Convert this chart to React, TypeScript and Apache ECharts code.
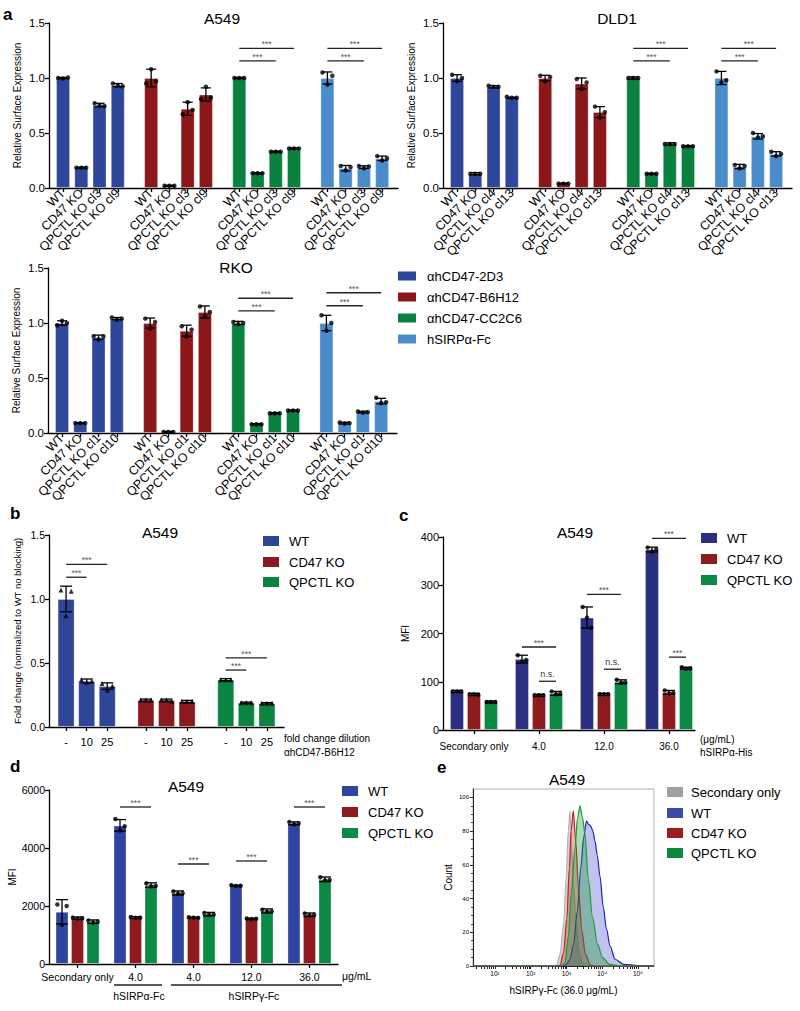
import React, { useEffect, useRef } from 'react';
import * as echarts from 'echarts';

const FONT = "'Liberation Sans', Arial, Helvetica, sans-serif";

// ---------- Panel a ----------
const aAntibodies = ['αhCD47-2D3', 'αhCD47-B6H12', 'αhCD47-CC2C6', 'hSIRPα-Fc'];
const aColors = ['#2f479b', '#8b171b', '#0b8140', '#4a8ccb'];

const a549Lines = ['WT', 'CD47 KO', 'QPCTL KO cl3', 'QPCTL KO cl9'];
const a549Means = [[1.0, 0.185, 0.755, 0.935], [1.0, 0.02, 0.72, 0.85], [1.0, 0.135, 0.33, 0.36], [1.0, 0.18, 0.19, 0.27]];
const a549Sd = [[0.005, 0.005, 0.015, 0.015], [0.08, 0.005, 0.06, 0.06], [0.005, 0.005, 0.005, 0.005], [0.055, 0.025, 0.012, 0.02]];
const a549Reps = [
  [[1.0, 0.995, 1.005], [0.185, 0.185, 0.185], [0.77, 0.75, 0.745], [0.95, 0.93, 0.925]],
  [[0.95, 1.08, 0.97], [0.02, 0.02, 0.02], [0.67, 0.78, 0.71], [0.81, 0.92, 0.82]],
  [[1.0, 1.0, 1.0], [0.135, 0.135, 0.135], [0.33, 0.33, 0.33], [0.36, 0.36, 0.36]],
  [[1.05, 0.94, 1.02], [0.2, 0.16, 0.19], [0.2, 0.18, 0.195], [0.29, 0.25, 0.27]],
];
const a549Brackets = [[2, 0, 2, 1.155], [2, 0, 3, 1.27], [3, 0, 2, 1.155], [3, 0, 3, 1.27]];

const dld1Lines = ['WT', 'CD47 KO', 'QPCTL KO cl4', 'QPCTL KO cl13'];
const dld1Means = [[1.0, 0.13, 0.92, 0.82], [1.0, 0.04, 0.95, 0.69], [1.0, 0.13, 0.4, 0.38], [1.0, 0.195, 0.47, 0.31]];
const dld1Sd = [[0.03, 0.01, 0.01, 0.005], [0.025, 0.005, 0.05, 0.05], [0.01, 0.005, 0.01, 0.005], [0.06, 0.02, 0.025, 0.02]];
const dld1Reps = [
  [[1.03, 0.97, 1.0], [0.13, 0.13, 0.13], [0.93, 0.92, 0.92], [0.83, 0.82, 0.82]],
  [[1.02, 0.97, 1.01], [0.04, 0.04, 0.04], [0.99, 0.9, 0.96], [0.74, 0.64, 0.69]],
  [[1.0, 1.0, 1.0], [0.13, 0.13, 0.13], [0.4, 0.4, 0.4], [0.38, 0.38, 0.38]],
  [[1.06, 0.96, 0.98], [0.21, 0.18, 0.2], [0.5, 0.46, 0.47], [0.33, 0.29, 0.31]],
];
const dld1Brackets = [[2, 0, 2, 1.155], [2, 0, 3, 1.27], [3, 0, 2, 1.155], [3, 0, 3, 1.27]];

const rkoLines = ['WT', 'CD47 KO', 'QPCTL KO cl1', 'QPCTL KO cl10'];
const rkoMeans = [[1.0, 0.09, 0.87, 1.04], [1.0, 0.01, 0.93, 1.1], [1.0, 0.08, 0.18, 0.205], [1.0, 0.09, 0.19, 0.29]];
const rkoSd = [[0.02, 0.005, 0.02, 0.01], [0.045, 0.005, 0.05, 0.055], [0.015, 0.005, 0.005, 0.005], [0.07, 0.008, 0.008, 0.025]];
const rkoReps = [
  [[0.98, 1.02, 1.0], [0.09, 0.09, 0.09], [0.88, 0.85, 0.88], [1.05, 1.03, 1.04]],
  [[1.04, 0.95, 1.01], [0.01, 0.01, 0.01], [0.97, 0.88, 0.94], [1.15, 1.06, 1.1]],
  [[1.01, 0.99, 1.0], [0.08, 0.08, 0.08], [0.18, 0.18, 0.18], [0.205, 0.205, 0.205]],
  [[1.07, 0.93, 1.0], [0.095, 0.085, 0.09], [0.195, 0.185, 0.19], [0.32, 0.27, 0.28]],
];
const rkoBrackets = [[2, 0, 2, 1.11], [2, 0, 3, 1.225], [3, 0, 2, 1.157], [3, 0, 3, 1.275]];

// ---------- Panel b ----------
const bGroups = ['WT', 'CD47 KO', 'QPCTL KO'];
const bDilutions = ['-', '10', '25'];
const bColors = ['#2f4598', '#8b1a1e', '#0a8440'];
const bMeans = [[1.0, 0.36, 0.32], [0.21, 0.21, 0.2], [0.37, 0.19, 0.185]];
const bSd = [[0.1, 0.015, 0.025], [0.008, 0.008, 0.008], [0.008, 0.005, 0.005]];
const bReps = [
  [[1.07, 0.87, 1.06], [0.37, 0.35, 0.36], [0.34, 0.29, 0.32]],
  [[0.21, 0.21, 0.21], [0.21, 0.21, 0.2], [0.2, 0.2, 0.2]],
  [[0.37, 0.37, 0.37], [0.19, 0.19, 0.19], [0.185, 0.185, 0.185]],
];
const bBrackets = [[0, 0, 1, 1.17], [0, 0, 2, 1.27], [2, 0, 1, 0.445], [2, 0, 2, 0.54]];

// ---------- Panel c ----------
const cConcs = ['Secondary only', '4.0', '12.0', '36.0'];
const cLines = ['WT', 'CD47 KO', 'QPCTL KO'];
const cColors = ['#2b2f82', '#8e1b1e', '#0c8a45'];
const cMeans = [[80, 74, 58], [147, 72, 76], [233, 74, 100], [374, 78, 128]];
const cSd = [[2, 2, 2], [8, 2, 4], [22, 2, 4], [5, 4, 2]];
const cReps = [
  [[80, 80, 80], [74, 74, 73], [58, 58, 58]],
  [[155, 142, 145], [72, 72, 72], [80, 74, 75]],
  [[255, 233, 212], [74, 74, 74], [104, 98, 99]],
  [[378, 370, 374], [82, 76, 77], [130, 127, 128]],
];
const cBrackets = [[1, 0, 2, 172, '***'], [1, 1, 2, 101, 'n.s.'], [2, 0, 2, 281, '***'], [2, 1, 2, 126, 'n.s.'], [3, 0, 2, 397, '***'], [3, 1, 2, 151, '***']];

// ---------- Panel d ----------
const dConcs = ['Secondary only', '4.0', '4.0', '12.0', '36.0'];
const dLines = ['WT', 'CD47 KO', 'QPCTL KO'];
const dColors = ['#2f44a0', '#8e1b1e', '#0a8a45'];
const dMeans = [[1800, 1580, 1460], [4780, 1600, 2720], [2450, 1600, 1720], [2700, 1560, 1830], [4850, 1700, 2920]];
const dSd = [[420, 40, 60], [200, 30, 80], [70, 20, 60], [20, 20, 70], [50, 60, 80]];
const dReps = [
  [[2050, 1350, 2000], [1600, 1570, 1580], [1500, 1430, 1460]],
  [[5000, 4600, 4750], [1620, 1590, 1600], [2780, 2680, 2700]],
  [[2500, 2420, 2440], [1610, 1600, 1590], [1760, 1700, 1710]],
  [[2720, 2690, 2700], [1570, 1550, 1560], [1870, 1800, 1820]],
  [[4900, 4820, 4850], [1740, 1680, 1690], [2990, 2880, 2900]],
];
const dBrackets = [[1, 0, 2, 5414], [2, 0, 2, 3448], [3, 0, 2, 3552], [4, 0, 2, 5414]];

// ---------- Panel e (x = log10 fluorescence, y = count) ----------
const eNames = ['Secondary only', 'WT', 'CD47 KO', 'QPCTL KO'];
const eSecondary = [[0.4, 0], [2.65, 0], [2.73, 0.5], [2.82, 7], [2.92, 25], [2.99, 52], [3.05, 80], [3.1, 92], [3.14, 73], [3.2, 48], [3.27, 25], [3.36, 7], [3.47, 0.5], [3.6, 0], [5.45, 0]];
const eWT = [[0.4, 0], [2.9, 0], [3.0, 1], [3.1, 4], [3.2, 13], [3.3, 32], [3.4, 58], [3.48, 76], [3.56, 86], [3.62, 84], [3.68, 83], [3.74, 80], [3.8, 74], [3.86, 66], [3.94, 53], [4.03, 35], [4.12, 22], [4.22, 12], [4.36, 4], [4.6, 1], [5.0, 0.3], [5.3, 0.3], [5.45, 0]];
const eCD47 = [[0.4, 0], [2.75, 0], [2.82, 0.5], [2.92, 8], [3.01, 28], [3.08, 58], [3.13, 80], [3.19, 92], [3.26, 74], [3.34, 45], [3.43, 21], [3.53, 7], [3.67, 0.5], [3.8, 0], [5.45, 0]];
const eQPCTL = [[0.4, 0], [2.85, 0], [2.96, 2], [3.05, 17], [3.14, 44], [3.24, 70], [3.31, 88], [3.38, 95], [3.45, 88], [3.52, 78], [3.61, 52], [3.73, 29], [3.87, 13], [4.01, 5], [4.2, 1], [4.5, 0], [5.45, 0]];
const eDecades = [1, 2, 3, 4, 5];
const eCountTicks = [0, 20, 40, 60, 80, 100];

const SUP = ['⁰', '¹', '²', '³', '⁴', '⁵'];

type Panel = {
  grid: any; stride: number; xMin: number; xMax: number;
  means: number[][]; sds: number[][]; reps: number[][][];
  color: (g: number, i: number) => string;
  brackets: any[]; barWidth: number; cap: number; dx: number[];
  symbol: string; symbolSize: number;
  tickMode: 'bar' | 'group'; label: (g: number, i: number) => string;
  rotate: number; xFont: number; xMargin: number;
  yMin: number; yMax: number; yInt: number; yFmt: (v: number) => string; yFont: number;
  yName: string; yNameGap: number; yNameSize: number;
};

function buildPanel(k: number, P: Panel) {
  const bars: any[] = [], errs: number[][] = [], dots: number[][] = [];
  const barPos: number[] = [], groupPos: number[] = [];
  P.means.forEach((row, g) => {
    groupPos.push(g * P.stride + (row.length - 1) / 2);
    row.forEach((m, i) => {
      const x = g * P.stride + i;
      barPos.push(x);
      bars.push({ value: [x, m], itemStyle: { color: P.color(g, i) } });
      errs.push([x, m, P.sds[g][i]]);
      P.reps[g][i].forEach((v, j) => dots.push([x + P.dx[j], v]));
    });
  });
  const br = P.brackets.map((b) => [b[0] * P.stride + b[1], b[0] * P.stride + b[2], b[3]]);
  const brLabels = P.brackets.map((b) => b[4] || '***');
  const ticks = P.tickMode === 'bar' ? barPos : groupPos;
  const nPer = P.means[0].length;
  const labelFor = (v: number) => {
    if (P.tickMode === 'bar') {
      const g = Math.floor((v + 0.5) / P.stride);
      const i = Math.round(v - g * P.stride);
      return P.label(g, i);
    }
    const g = Math.round((v - (nPer - 1) / 2) / P.stride);
    return P.label(g, 0);
  };
  const axisStyle = { color: '#000', width: 1.3 };
  const xAxis = {
    type: 'value', gridIndex: k, min: P.xMin, max: P.xMax,
    axisLine: { show: true, onZero: false, lineStyle: axisStyle },
    axisTick: { show: true, customValues: ticks, length: 4, lineStyle: axisStyle },
    axisLabel: { customValues: ticks, formatter: labelFor, rotate: P.rotate, fontSize: P.xFont, fontFamily: FONT, color: '#000', margin: P.xMargin },
    splitLine: { show: false },
  };
  const yAxis = {
    type: 'value', gridIndex: k, min: P.yMin, max: P.yMax, interval: P.yInt,
    axisLine: { show: true, onZero: false, lineStyle: axisStyle },
    axisTick: { show: true, length: 4, lineStyle: axisStyle },
    axisLabel: { formatter: P.yFmt, fontSize: P.yFont, fontFamily: FONT, color: '#000', margin: 4 },
    splitLine: { show: false },
    name: P.yName, nameLocation: 'middle', nameGap: P.yNameGap,
    nameTextStyle: { fontSize: P.yNameSize, fontFamily: FONT, color: '#000' },
  };
  const cap = P.cap;
  const series = [
    { type: 'bar', xAxisIndex: k, yAxisIndex: k, data: bars, barWidth: P.barWidth, z: 2, silent: true,
      itemStyle: { borderColor: 'rgba(255,255,255,0.3)', borderWidth: 1 } },
    { type: 'custom', xAxisIndex: k, yAxisIndex: k, data: errs, z: 3, clip: false, silent: true,
      renderItem: (params: any, api: any) => {
        const x = api.value(0), m = api.value(1), s = api.value(2);
        const t = api.coord([x, m + s]), b = api.coord([x, m - s]);
        const st = { stroke: '#000', lineWidth: 1.3 };
        return { type: 'group', children: [
          { type: 'line', shape: { x1: t[0], y1: t[1], x2: b[0], y2: b[1] }, style: st },
          { type: 'line', shape: { x1: t[0] - cap, y1: t[1], x2: t[0] + cap, y2: t[1] }, style: st },
          { type: 'line', shape: { x1: b[0] - cap, y1: b[1], x2: b[0] + cap, y2: b[1] }, style: st },
        ] };
      } },
    { type: 'scatter', xAxisIndex: k, yAxisIndex: k, data: dots, symbol: P.symbol, symbolSize: P.symbolSize,
      itemStyle: { color: '#000' }, z: 4, silent: true },
    { type: 'custom', xAxisIndex: k, yAxisIndex: k, data: br, z: 5, clip: false, silent: true,
      renderItem: (params: any, api: any) => {
        const p1 = api.coord([api.value(0), api.value(2)]);
        const p2 = api.coord([api.value(1), api.value(2)]);
        const lab = brLabels[params.dataIndex];
        const ns = lab !== '***';
        return { type: 'group', children: [
          { type: 'line', shape: { x1: p1[0], y1: p1[1], x2: p2[0], y2: p2[1] }, style: { stroke: '#222', lineWidth: 1.3 } },
          { type: 'text', style: { text: lab, x: (p1[0] + p2[0]) / 2, y: p1[1] - (ns ? 7 : 4),
            fill: ns ? '#333' : '#555', font: `${ns ? 9 : 8.5}px ${FONT}`,
            textAlign: 'center', textVerticalAlign: 'middle', align: 'center', verticalAlign: 'middle' } },
        ] };
      } },
  ];
  return { grid: { ...P.grid, show: false }, xAxis, yAxis, series };
}

const fmt1 = (v: number) => v.toFixed(1);
const fmt0 = (v: number) => String(v);
const aCommon = {
  stride: 4.83, xMin: -0.77, xMax: 18.36, barWidth: 14, cap: 5, dx: [-0.27, 0, 0.27],
  symbol: 'circle', symbolSize: 4.5, tickMode: 'bar' as const, rotate: 45, xFont: 12.5, xMargin: 3,
  yMin: 0, yMax: 1.5, yInt: 0.5, yFmt: fmt1, yFont: 11.5,
  yName: 'Relative Surface Expression', yNameGap: 27, yNameSize: 10,
  color: (g: number) => aColors[g],
};

function txt(text: string, x: number, y: number, size: number, align = 'left', weight = 'normal', fill = '#000') {
  return { type: 'text', silent: true, style: { text, x, y, font: `${weight} ${size}px ${FONT}`, fill,
    textAlign: align, textVerticalAlign: 'middle', align, verticalAlign: 'middle' } };
}
function legend(names: string[], colors: string[], x: number, ys: number[], w: number, h: number, tx: number, size: number) {
  const out: any[] = [];
  names.forEach((n, i) => {
    out.push({ type: 'rect', silent: true, shape: { x, y: ys[i] - h / 2, width: w, height: h }, style: { fill: colors[i] } });
    out.push(txt(n, tx, ys[i], size));
  });
  return out;
}

function buildOption() {
  const panels: Panel[] = [
    { ...aCommon, grid: { left: 49, top: 23, width: 349, height: 165 }, means: a549Means, sds: a549Sd, reps: a549Reps,
      brackets: a549Brackets, label: (g, i) => a549Lines[i] },
    { ...aCommon, grid: { left: 443, top: 23, width: 349, height: 165 }, means: dld1Means, sds: dld1Sd, reps: dld1Reps,
      brackets: dld1Brackets, label: (g, i) => dld1Lines[i] },
    { ...aCommon, grid: { left: 48, top: 268, width: 349, height: 165 }, means: rkoMeans, sds: rkoSd, reps: rkoReps,
      brackets: rkoBrackets, label: (g, i) => rkoLines[i] },
    { grid: { left: 49, top: 535, width: 235, height: 192 }, stride: 3.88, xMin: -0.83, xMax: 10.59,
      means: bMeans, sds: bSd, reps: bReps, color: (g) => bColors[g], brackets: bBrackets,
      barWidth: 17, cap: 6, dx: [-0.25, 0, 0.25], symbol: 'triangle', symbolSize: 5,
      tickMode: 'bar', label: (g, i) => bDilutions[i], rotate: 0, xFont: 11, xMargin: 9,
      yMin: 0, yMax: 1.5, yInt: 0.5, yFmt: fmt1, yFont: 10.5,
      yName: 'Fold change (normalized to WT no blocking)', yNameGap: 27, yNameSize: 9.5 },
    { grid: { left: 443, top: 537, width: 252, height: 193 }, stride: 3.82, xMin: -0.82, xMax: 13.99,
      means: cMeans, sds: cSd, reps: cReps, color: (g, i) => cColors[i], brackets: cBrackets,
      barWidth: 14, cap: 6, dx: [-0.25, 0, 0.25], symbol: 'circle', symbolSize: 4.5,
      tickMode: 'group', label: (g) => cConcs[g], rotate: 0, xFont: 10, xMargin: 11,
      yMin: 0, yMax: 400, yInt: 100, yFmt: fmt0, yFont: 11,
      yName: 'MFI', yNameGap: 33, yNameSize: 10 },
    { grid: { left: 49, top: 790, width: 289, height: 174 }, stride: 3.74, xMin: -0.84, xMax: 17.8,
      means: dMeans, sds: dSd, reps: dReps, color: (g, i) => dColors[i], brackets: dBrackets,
      barWidth: 13, cap: 6, dx: [-0.3, 0, 0.3], symbol: 'circle', symbolSize: 4.5,
      tickMode: 'group', label: (g) => dConcs[g], rotate: 0, xFont: 10.5, xMargin: 7,
      yMin: 0, yMax: 6000, yInt: 2000, yFmt: fmt0, yFont: 10.5,
      yName: 'MFI', yNameGap: 31, yNameSize: 10 },
  ];

  const grids: any[] = [], xAxes: any[] = [], yAxes: any[] = [];
  let series: any[] = [];
  panels.forEach((P, k) => {
    const r = buildPanel(k, P);
    grids.push(r.grid); xAxes.push(r.xAxis); yAxes.push(r.yAxis);
    series = series.concat(r.series);
  });

  // Panel e
  const ek = panels.length;
  const eMinor: number[] = [];
  for (let d = 0; d <= 5; d++) for (let m = 1; m <= 9; m++) {
    const v = d + Math.log10(m);
    if (v >= 0.385 && v <= 5.45) eMinor.push(v);
  }
  grids.push({ left: 473, top: 789, width: 181, height: 177, show: true, borderColor: '#b0b0b0', borderWidth: 1 });
  xAxes.push({
    type: 'value', gridIndex: ek, min: 0.385, max: 5.45,
    axisLine: { show: true, onZero: false, lineStyle: { color: '#222', width: 1 } },
    axisTick: { show: true, customValues: eMinor, length: 3, lineStyle: { color: '#222', width: 1 } },
    axisLabel: { customValues: eDecades, formatter: (v: number) => '10' + SUP[Math.round(v)], fontSize: 6.5, fontFamily: FONT, color: '#000', margin: 4 },
    splitLine: { show: false },
    name: 'hSIRPγ-Fc (36.0 μg/mL)', nameLocation: 'middle', nameGap: 19,
    nameTextStyle: { fontSize: 10, fontFamily: FONT, color: '#000' },
  });
  yAxes.push({
    type: 'value', gridIndex: ek, min: 0, max: 105,
    axisLine: { show: true, onZero: false, lineStyle: { color: '#222', width: 1 } },
    axisTick: { show: true, customValues: eCountTicks, length: 3, lineStyle: { color: '#222', width: 1 } },
    minorTick: { show: true, splitNumber: 4, length: 2, lineStyle: { color: '#444' } },
    axisLabel: { customValues: eCountTicks, fontSize: 6, fontFamily: FONT, color: '#000', margin: 4 },
    splitLine: { show: false },
    name: 'Count', nameLocation: 'middle', nameGap: 20,
    nameTextStyle: { fontSize: 10, fontFamily: FONT, color: '#000' },
  });
  const eStyles = [
    { d: eSecondary, line: '#b4b4b4', fill: 'rgba(140,140,140,0.55)' },
    { d: eWT, line: '#1c1cc8', fill: 'rgba(60,60,200,0.45)' },
    { d: eCD47, line: '#c41e1e', fill: 'rgba(190,30,30,0.45)' },
    { d: eQPCTL, line: '#12a030', fill: 'rgba(20,150,50,0.5)' },
  ];
  eStyles.forEach((s, i) => {
    series.push({ type: 'line', name: eNames[i], xAxisIndex: ek, yAxisIndex: ek, data: s.d, showSymbol: false,
      smooth: 0.3, smoothMonotone: 'x', silent: true, z: 2 + i,
      lineStyle: { color: s.line, width: 1.2 }, areaStyle: { color: s.fill } });
  });

  const graphic: any[] = [
    txt('a', 3, 14, 17, 'left', 'bold'),
    txt('b', 10, 513, 17, 'left', 'bold'),
    txt('c', 399, 515, 17, 'left', 'bold'),
    txt('d', 10, 766, 17, 'left', 'bold'),
    txt('e', 437, 767, 17, 'left', 'bold'),
    txt('A549', 222, 18, 15.5, 'center'),
    txt('DLD1', 617, 18, 15.5, 'center'),
    txt('RKO', 236, 267, 15.5, 'center'),
    txt('A549', 160, 532, 15.5, 'center'),
    txt('A549', 575, 532, 15.5, 'center'),
    txt('A549', 186, 786, 15.5, 'center'),
    txt('A549', 567, 779, 15.5, 'center'),
    txt('fold change dilution', 284, 738, 10),
    txt('αhCD47-B6H12', 284, 752, 10),
    txt('(μg/mL)', 700, 739, 10),
    txt('hSIRPα-His', 700, 752, 10),
    txt('μg/mL', 342, 976, 10.5),
    txt('hSIRPα-Fc', 139, 996, 10.5, 'center'),
    txt('hSIRPγ-Fc', 254, 996, 10.5, 'center'),
    { type: 'line', silent: true, shape: { x1: 114, y1: 985, x2: 162, y2: 985 }, style: { stroke: '#222', lineWidth: 1.3 } },
    { type: 'line', silent: true, shape: { x1: 171, y1: 985, x2: 342, y2: 985 }, style: { stroke: '#222', lineWidth: 1.3 } },
    ...legend(aAntibodies, aColors, 398, [276, 297, 318, 339], 18, 9, 427, 13),
    ...legend(bGroups, bColors, 263, [541, 562, 582], 16, 10, 289, 13),
    ...legend(cLines, cColors, 701, [538, 559, 580], 16, 10, 727, 13),
    ...legend(dLines, dColors, 342, [791, 812, 833], 16, 10, 368, 13),
    ...legend(eNames, ['#a0a0a0', '#3a4aa8', '#a01c20', '#0a8a40'], 667, [792, 813, 833, 853], 16, 10, 691, 13),
  ];

  return {
    animation: false,
    backgroundColor: '#ffffff',
    textStyle: { fontFamily: FONT },
    grid: grids, xAxis: xAxes, yAxis: yAxes, series, graphic,
  };
}

export default function App() {
  const ref = useRef<HTMLDivElement>(null);
  useEffect(() => {
    const chart = echarts.init(ref.current as HTMLDivElement, null, { renderer: 'svg' });
    chart.setOption(buildOption() as any);
    return () => chart.dispose();
  }, []);
  return <div ref={ref} style={{ position: 'absolute', left: 0, top: 0, width: 800, height: 1011, background: '#fff' }} />;
}
